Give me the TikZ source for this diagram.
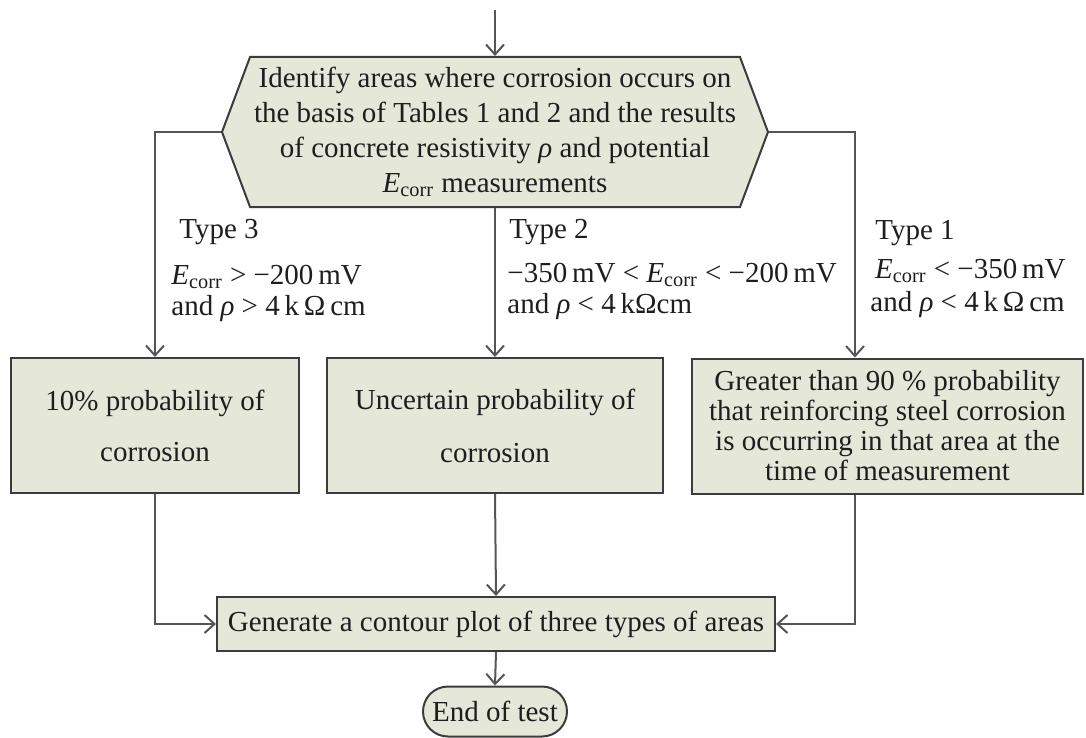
\documentclass[tikz,border=0pt]{standalone}
\usepackage{fontspec}
\setmainfont{Liberation Serif}
\usepackage{tikz}
\usetikzlibrary{arrows.meta,shapes.symbols}
\definecolor{boxfill}{RGB}{229,231,216}
\definecolor{boxline}{RGB}{60,60,60}
\definecolor{flowline}{RGB}{85,85,85}
\definecolor{txt}{RGB}{30,30,30}

\begin{document}
\begin{tikzpicture}[x=0.5pt,y=-0.5pt,
  every node/.style={text=txt, font=\fontsize{14.5}{17.5}\selectfont},
  stepbox/.style={draw=boxline, line width=1pt, fill=boxfill, rectangle, inner sep=0pt, align=center},
  conn/.style={draw=flowline, line width=1pt, -{Straight Barb[length=5pt,width=9pt]}},
  cond/.style={anchor=west, align=left, inner sep=0pt}]
  \useasboundingbox (0,0) rectangle (1086,738);

  % start and decision
  \coordinate (start) at (495,10);
  \node[stepbox, signal, signal to=west and east, signal pointer angle=139,
        minimum width=273pt, minimum height=75pt] (hex) at (495,132)
    {Identify areas where corrosion occurs on\\
     the basis of Tables 1 and 2 and the results\\
     of concrete resistivity \textit{ρ} and potential\\
     \textit{E}\textsubscript{corr} measurements};
  \coordinate (rturn) at (855,132);

  % three outcomes
  \node[stepbox, minimum width=144pt, minimum height=67.5pt] (box3) at (155,425.5)
    {10\% probability of\\[8pt] corrosion};
  \node[stepbox, minimum width=168pt, minimum height=67.5pt] (box2) at (495,425.5)
    {Uncertain probability of\\[9pt] corrosion};
  \node[stepbox, minimum width=195.5pt, minimum height=67.5pt,
        font=\fontsize{14.5}{15}\selectfont] (box1) at (887.5,426)
    {Greater than 90 \% probability\\
     that reinforcing steel corrosion\\
     is occurring in that area at the\\
     time of measurement};

  % labels
  \node[cond] (t3) at (179,232) {Type 3};
  \node[cond, font=\fontsize{14.5}{15.5}\selectfont] (c3) at (171,293)
    {\textit{E}\textsubscript{corr} > −200\,mV\\ and \textit{ρ} > 4\,k\,Ω\,cm};
  \node[cond] (t2) at (509,232) {Type 2};
  \node[cond, font=\fontsize{14.5}{15.5}\selectfont] (c2) at (507,291)
    {−350\,mV < \textit{E}\textsubscript{corr} < −200\,mV\\ and \textit{ρ} < 4\,kΩcm};
  \node[cond] (t1) at (875,233) {Type 1};
  \node[cond, font=\fontsize{14.5}{16.5}\selectfont] (c1) at (870,288)
    {\,\textit{E}\textsubscript{corr} < −350\,mV\\ and \textit{ρ} < 4\,k\,Ω\,cm};

  % result and end
  \node[stepbox, minimum width=279pt, minimum height=27pt] (gen) at (496,624)
    {Generate a contour plot of three types of areas};
  \node[stepbox, rounded corners=12.5pt, minimum width=72pt, minimum height=25pt] (end) at (495,711.5)
    {End of test};

  % connectors
  \draw[conn] (start) -- (hex.north);
  \draw[conn] (hex.west) -| (box3.north);
  \draw[conn] (hex.south) -- (box2.north);
  \draw[conn] (hex.east) -- (rturn) -- (rturn |- box1.north);
  \draw[conn] (box3.south) |- (gen.west);
  \draw[conn] (box2.south) -- (gen.north);
  \draw[conn] (rturn |- box1.south) |- (gen.east);
  \draw[conn] (gen.south) -- (end.north);
\end{tikzpicture}
\end{document}
